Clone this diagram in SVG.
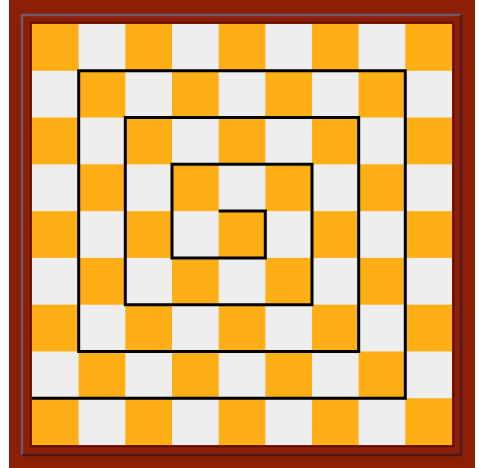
<svg xmlns="http://www.w3.org/2000/svg" width="480" height="468" viewBox="0 0 480 468">
  <style>
    .o { fill: #FEAF15; }
    .spiral { fill: none; stroke: #000; stroke-width: 3; stroke-linejoin: miter; stroke-linecap: butt; }
  </style>
  <rect x="0" y="0" width="480" height="468" fill="#ffffff"/>
  <rect x="9" y="0" width="466" height="468" fill="#8C1F05"/>
  <!-- bevel -->
  <path d="M22,455 V15 H461" fill="none" stroke="#6B5A72" stroke-width="2.5"/>
  <path d="M22,455 H461 V15" fill="none" stroke="#4A1A22" stroke-width="2.5"/>
  <rect x="30.5" y="22.5" width="423" height="424" fill="none" stroke="#5A1006" stroke-width="1.5"/>
  <rect x="32" y="24" width="420" height="421" fill="#EEEEEE"/>
  <g transform="translate(32,24) scale(46.667,46.778)" class="o">
    <rect x="0" y="0" width="1" height="1"/><rect x="2" y="0" width="1" height="1"/><rect x="4" y="0" width="1" height="1"/><rect x="6" y="0" width="1" height="1"/><rect x="8" y="0" width="1" height="1"/>
    <rect x="1" y="1" width="1" height="1"/><rect x="3" y="1" width="1" height="1"/><rect x="5" y="1" width="1" height="1"/><rect x="7" y="1" width="1" height="1"/>
    <rect x="0" y="2" width="1" height="1"/><rect x="2" y="2" width="1" height="1"/><rect x="4" y="2" width="1" height="1"/><rect x="6" y="2" width="1" height="1"/><rect x="8" y="2" width="1" height="1"/>
    <rect x="1" y="3" width="1" height="1"/><rect x="3" y="3" width="1" height="1"/><rect x="5" y="3" width="1" height="1"/><rect x="7" y="3" width="1" height="1"/>
    <rect x="0" y="4" width="1" height="1"/><rect x="2" y="4" width="1" height="1"/><rect x="4" y="4" width="1" height="1"/><rect x="6" y="4" width="1" height="1"/><rect x="8" y="4" width="1" height="1"/>
    <rect x="1" y="5" width="1" height="1"/><rect x="3" y="5" width="1" height="1"/><rect x="5" y="5" width="1" height="1"/><rect x="7" y="5" width="1" height="1"/>
    <rect x="0" y="6" width="1" height="1"/><rect x="2" y="6" width="1" height="1"/><rect x="4" y="6" width="1" height="1"/><rect x="6" y="6" width="1" height="1"/><rect x="8" y="6" width="1" height="1"/>
    <rect x="1" y="7" width="1" height="1"/><rect x="3" y="7" width="1" height="1"/><rect x="5" y="7" width="1" height="1"/><rect x="7" y="7" width="1" height="1"/>
    <rect x="0" y="8" width="1" height="1"/><rect x="2" y="8" width="1" height="1"/><rect x="4" y="8" width="1" height="1"/><rect x="6" y="8" width="1" height="1"/><rect x="8" y="8" width="1" height="1"/>
  </g>
  <path class="spiral" d="M218.7,211.1 H265.3 V257.9 H172 V164.3 H312 V304.7 H125.3 V117.6 H358.7 V351.4 H78.7 V70.8 H405.3 V398.2 H32"/>
</svg>
